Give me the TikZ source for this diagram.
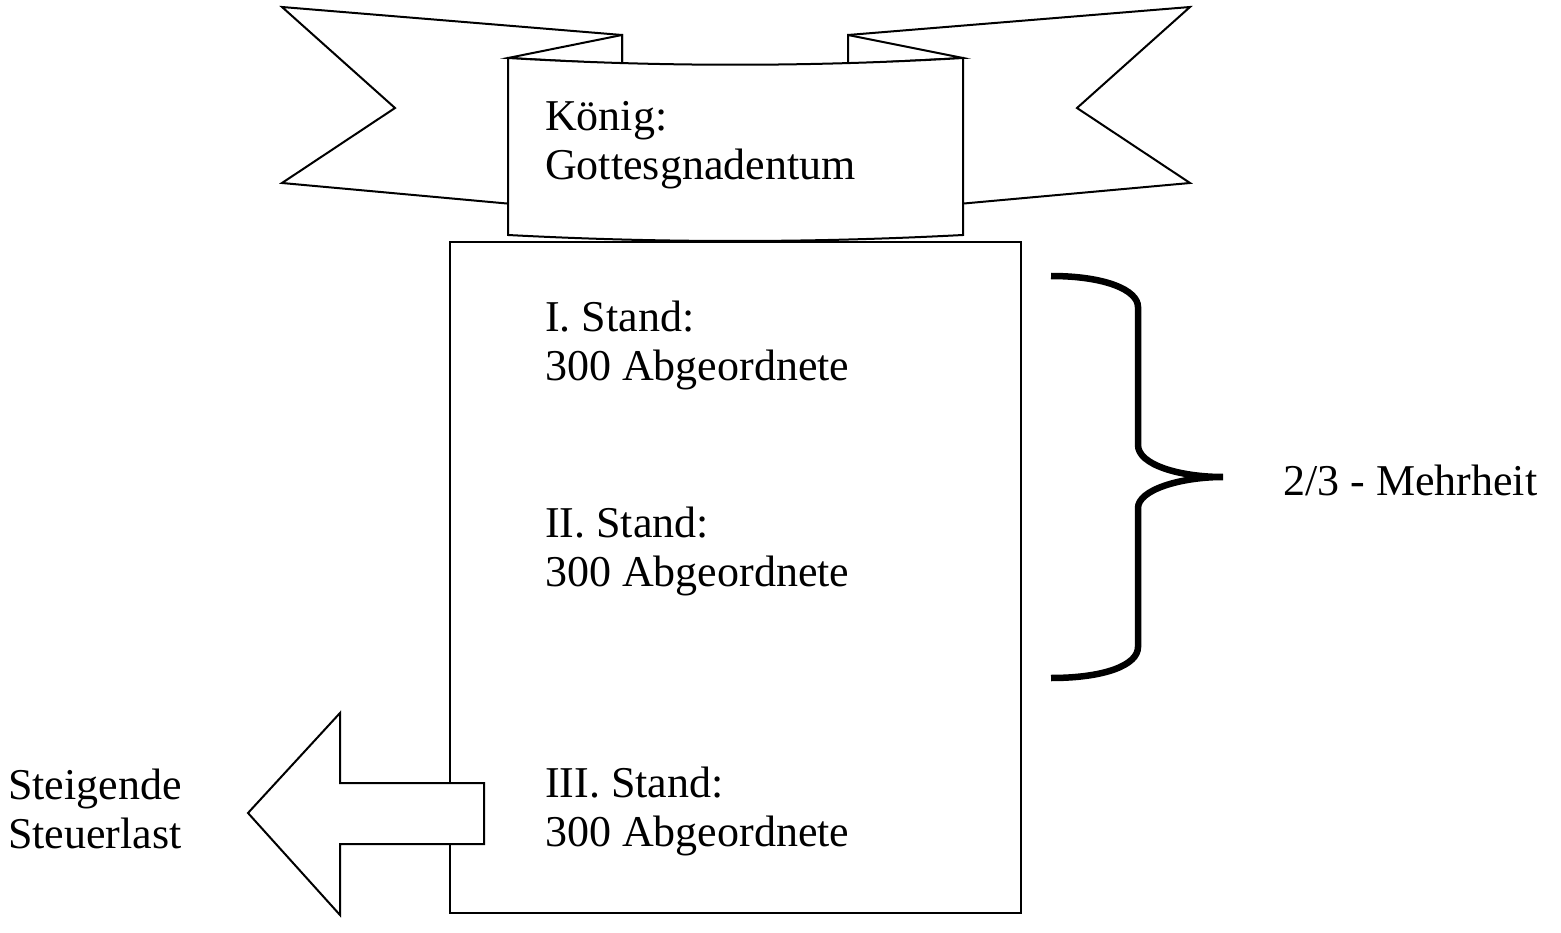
\documentclass[tikz,border=0pt]{standalone}
\usepackage{fontspec}
\setmainfont{Liberation Serif}
\tikzset{
  outline/.style={draw=black, line width=2pt, fill=white, line join=miter},
  lbl/.style={anchor=base west, inner sep=0pt, align=left, font=\fontsize{44}{49}\selectfont},
  bracestyle/.style={draw=black, line width=6.5pt}
}
\begin{document}
\begin{tikzpicture}[x=1pt, y=-1pt]
\useasboundingbox (0,0) rectangle (1561,933);
% ribbon tails
\draw[outline] (622,35) -- (282,7) -- (395,108) -- (282,183) -- (622,214) -- cycle;
\draw[outline] (848,35) -- (1190,7) -- (1077,108) -- (1190,183) -- (848,214) -- cycle;
% folds
\draw[outline] (622,35) -- (508,58) -- (622,64) -- cycle;
\draw[outline] (848,35) -- (963,58) -- (848,64) -- cycle;
% main box
\coordinate (boxNW) at (450,242);
\coordinate (boxSE) at (1021,913);
\draw[outline] (boxNW) rectangle (boxSE);
% ribbon centre panel
\draw[outline] (508,58) .. controls (660,67) and (810,67) .. (963,58) -- (963,235)
  .. controls (810,243) and (660,243) .. (508,235) -- cycle;
% arrow
\draw[outline] (484,783) -- (340,783) -- (340,713) -- (248,813) -- (340,915) -- (340,844) -- (484,844) -- cycle;
% brace
\draw[bracestyle] (1051,276) .. controls (1105,276) and (1138,290) .. (1138,307) -- (1138,445)
  .. controls (1138,465) and (1180,477) .. (1223,477)
  .. controls (1180,477) and (1138,490) .. (1138,508) -- (1138,647)
  .. controls (1138,665) and (1105,678) .. (1051,678);
% texts (base anchor = baseline of the last line)
\node[lbl] (koenig) at (545,180) {König:\\Gottesgnadentum};
\node[lbl] (st1) at (545,380) {I. Stand:\\300 Abgeordnete};
\node[lbl] (st2) at (545,586) {II. Stand:\\300 Abgeordnete};
\node[lbl] (st3) at (545,846) {III. Stand:\\300 Abgeordnete};
\node[lbl] (mehr) at (1283,495) {2/3 - Mehrheit};
\node[lbl] (steuer) at (8,848) {Steigende\\Steuerlast};
\end{tikzpicture}
\end{document}
